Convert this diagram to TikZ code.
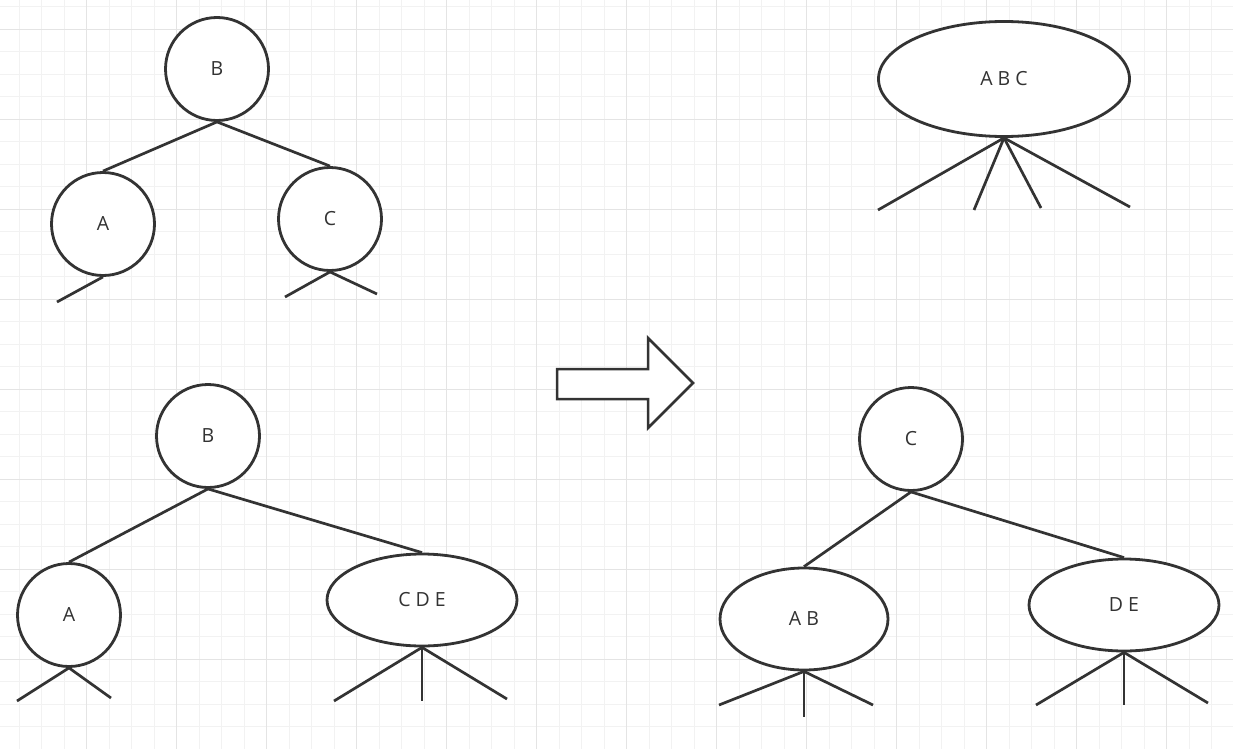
\documentclass[tikz,border=0pt]{standalone}
\usepackage{fontspec}
\setmainfont{Open Sans}
\usetikzlibrary{shapes.geometric}
\definecolor{ink}{HTML}{333333}
\definecolor{gridminor}{HTML}{F2F2F2}
\definecolor{gridmajor}{HTML}{E4E4E4}

\begin{document}
\begin{tikzpicture}[x=1pt,y=-1pt,
	key/.style={circle,draw=ink,line width=2.8pt,fill=white,inner sep=0pt,
		minimum size=103pt,text=ink,font=\fontsize{19.5}{22}\selectfont},
	keys/.style={ellipse,draw=ink,line width=2.8pt,fill=white,inner sep=0pt,
		text=ink,font=\fontsize{19.5}{22}\selectfont},
	link/.style={draw=ink,line width=2.7pt}]
	\useasboundingbox[fill=white] (0,0) rectangle (1233,749);
	% background grid: thin lines every 22.5, stronger ones every 90
	\foreach \x in {19.1,41.6,...,1233} \draw[gridminor,line width=1pt] (\x,0) -- (\x,749);
	\foreach \y in {6.8,29.3,...,749} \draw[gridminor,line width=1pt] (0,\y) -- (1233,\y);
	\foreach \x in {86.6,176.6,...,1233} \draw[gridmajor,line width=1pt] (\x,0) -- (\x,749);
	\foreach \y in {29.3,119.3,...,749} \draw[gridmajor,line width=1pt] (0,\y) -- (1233,\y);

	% upper left: 2-node tree
	\node[key] (b1) at (217,69) {B};
	\node[key] (a1) at (103,224) {A};
	\node[key] (c1) at (330,219) {C};
	\draw[link] (b1.south) -- (a1.north);
	\draw[link] (b1.south) -- (c1.north);
	\coordinate (a1l) at (57,302);
	\coordinate (c1l) at (285,297);
	\coordinate (c1r) at (377,294);
	\draw[link] (a1.south) -- (a1l);
	\draw[link] (c1.south) -- (c1l);
	\draw[link] (c1.south) -- (c1r);

	% upper right: merged 4-node
	\node[keys,minimum width=251pt,minimum height=115pt] (abc) at (1004,79) {A B C};
	\coordinate (abc1) at (878,210);
	\coordinate (abc2) at (974,210);
	\coordinate (abc3) at (1041,208);
	\coordinate (abc4) at (1130,207);
	\foreach \t in {abc1,abc2,abc3,abc4}
		\draw[link] (abc.south) -- (\t);

	% lower left: before the split
	\node[key] (b2) at (208,436) {B};
	\node[key] (a2) at (69,615) {A};
	\node[keys,minimum width=190pt,minimum height=92pt] (cde) at (422,600) {C D E};
	\draw[link] (b2.south) -- (a2.north);
	\draw[link] (b2.south) -- (cde.north);
	\coordinate (a2l) at (17,701);
	\coordinate (a2r) at (111,698);
	\draw[link] (a2.south) -- (a2l);
	\draw[link] (a2.south) -- (a2r);
	\coordinate (cde1) at (334,701);
	\coordinate (cde2) at (422,701);
	\coordinate (cde3) at (507,699);
	\foreach \t in {cde1,cde2,cde3}
		\draw[link] (cde.south) -- (\t);

	% the big arrow
	\draw[ink,line width=2.5pt,fill=white] (557,369) -- (648,369) -- (648,338)
		-- (693,383) -- (648,428) -- (648,399) -- (557,399) -- cycle;

	% lower right: after the split
	\node[key] (c3) at (911,439) {C};
	\node[keys,minimum width=168pt,minimum height=102pt] (ab) at (804,619) {A B};
	\node[keys,minimum width=190pt,minimum height=92pt] (de) at (1124,605) {D E};
	\draw[link] (c3.south) -- (ab.north);
	\draw[link] (c3.south) -- (de.north);
	\coordinate (ab1) at (719,705);
	\coordinate (ab2) at (804,717);
	\coordinate (ab3) at (873,705);
	\foreach \t in {ab1,ab2,ab3}
		\draw[link] (ab.south) -- (\t);
	\coordinate (de1) at (1036,705);
	\coordinate (de2) at (1124,705);
	\coordinate (de3) at (1208,703);
	\foreach \t in {de1,de2,de3}
		\draw[link] (de.south) -- (\t);
\end{tikzpicture}
\end{document}
